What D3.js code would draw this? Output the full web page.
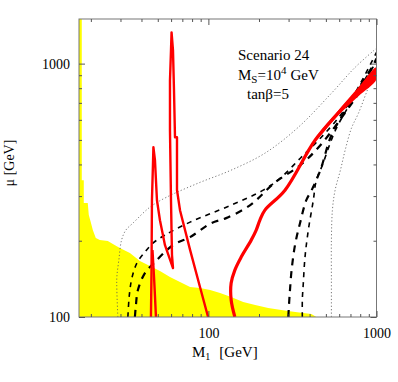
<!DOCTYPE html>
<html>
<head>
<meta charset="utf-8">
<script src="https://cdn.jsdelivr.net/npm/d3@7"></script>
<style>
  body { margin: 0; background: #fff; }
  text { font-family: "Liberation Serif", "Times New Roman", serif; fill: #000; }
</style>
</head>
<body>
<svg width="398" height="382"></svg>
<script>
// axis ticks
var xMajor = [100, 1000]
var xMinor = [20, 30, 40, 50, 60, 70, 80, 90, 200, 300, 400, 500, 600, 700, 800, 900]
var yMajor = [100, 1000]
var yMinor = [200, 300, 400, 500, 600, 700, 800, 900]

// excluded (yellow) region boundary, [M1, mu]
var excluded = [[17.66, 1500], [17.66, 346.6], [18.15, 346.6], [18.15, 281.5], [19.17, 281.5],
  [19.44, 252.4], [19.98, 236.8], [20.54, 220.3], [21.4, 204.8], [22.61, 201.1], [25.23, 199.3],
  [27.03, 194.0], [29.74, 187.1], [34.14, 178.8], [39.14, 166.2], [44.92, 158.9], [51.51, 151.8],
  [59.1, 143.8], [67.8, 137.4], [77.82, 131.3], [89.23, 130.1], [102.4, 127.8], [117.4, 124.3],
  [136.6, 119.9], [161.1, 114.6], [189.9, 111.5], [227.0, 108.5], [271.4, 106.6], [328.9, 104.6],
  [409.7, 102.8], [438.7, 100]]

// red contours
var redSpikes = [[45.54, 100], [45.9, 153], [46.17, 289], [46.8, 397], [47.1, 468], [48.11, 416],
  [49.45, 289], [51.52, 241], [55.19, 192], [61.59, 156], [60.75, 175.6], [59.93, 289], [59.1, 546],
  [59.1, 860], [59.93, 1128], [60.4, 1328], [61.59, 1128], [62.44, 785], [63.3, 512], [65.06, 512],
  [65.06, 317], [67.8, 264], [77.82, 184], [89.23, 131], [99.6, 100]]
var redSpikeBase = [[48.77, 100], [47.6, 140], [46.5, 183.7]]
var redMain = [[143.7, 100], [136.6, 116.7], [136.6, 136.1], [143.7, 153.2], [156.7, 172.4],
  [179.8, 201.1], [192.5, 220.3], [202.5, 241.2], [216.9, 264.2], [285.5, 316.7], [431, 498.6],
  [593.5, 640], [780.9, 775], [1000, 920]]
var redWedge = [[431, 502], [593.5, 654.5], [780.9, 806.5], [1000, 967], [1000, 867],
  [780.9, 743], [593.5, 625.5], [431, 494]]

// dashed contours
var dashA = [[33.2, 100], [33.67, 116.7], [34.14, 127.8], [35.08, 142.5], [37.57, 163.3],
  [41.93, 180.4], [46.8, 195.7], [55.19, 210.5], [77.82, 236.8], [136.6, 276.4], [212.0, 316.7],
  [267.7, 353.1], [352.3, 423.4], [463.6, 507.7], [610.1, 625.5], [749.8, 770.7], [1000, 1108]]
var dashB = [[36.55, 100], [37.07, 111.5], [38.09, 127.8], [41.93, 149.1], [48.11, 164.8],
  [61.59, 192.2], [77.82, 206.7], [103.8, 234.6], [127.5, 245.6], [177.4, 276.4], [249.9, 340.5],
  [352.3, 397.4], [463.6, 476.4], [653.6, 642.7], [802.6, 784.8], [1000, 1049]]
var dashC = [[298.8, 100], [302.9, 116.7], [305.8, 127.8], [312.6, 153.2], [327.5, 192.2],
  [350.8, 234.6], [382.3, 289.2], [411.4, 316.7], [463.6, 379.8], [539.2, 521.6], [653.6, 654.5],
  [802.6, 821.3], [1000, 1030]]
var dashD = [[362.1, 100], [362.1, 116.7], [367.0, 136.1], [375.6, 172.4], [393.1, 220.3],
  [421.0, 289.2], [438.7, 346.7], [476.4, 397.4], [569.6, 545.8], [699.8, 697.4], [859.9, 875],
  [1000, 1012]]

// dotted contours
var dotOuter = [[28.94, 100], [28.55, 127.8], [28.55, 143.8], [29.34, 167.7], [30.45, 201.1],
  [32.3, 220.3], [35.56, 234.6], [44.92, 271.4], [56.49, 297.2], [86.84, 337.4], [136.6, 379.8],
  [216.9, 443.1], [342.7, 560.9], [539.2, 763.7], [746.5, 967], [1000, 1150]]
var dotRight = [[539.2, 100], [539.2, 139.9], [539.2, 201.1], [546.7, 264.2], [567.2, 316.7],
  [610.1, 379.8], [650.9, 455.3], [709.4, 555.9], [780.9, 637], [896.1, 806.5], [1000, 958]]

;(function (d3) {
  var svg = d3.select('svg')
  var x0 = 79, x1 = 376.5, y0 = 19, y1 = 317

  var x = d3.scaleLog().domain([17, 1000]).range([x0, x1])
  var y = d3.scaleLog().domain([100, 1500]).range([y1, y0])

  svg.append('clipPath').attr('id', 'clip')
    .append('rect').attr('x', x0).attr('y', y0)
    .attr('width', x1 - x0).attr('height', y1 - y0)

  var plot = svg.append('g').attr('clip-path', 'url(#clip)')

  var ln = d3.line()
    .x(function (d) { return x(d[0]) })
    .y(function (d) { return y(d[1]) })
  var smooth = d3.line()
    .x(function (d) { return x(d[0]) })
    .y(function (d) { return y(d[1]) })
    .curve(d3.curveCatmullRom.alpha(0.5))

  // yellow region
  plot.append('path')
    .attr('d', ln([[17, 1500]].concat(excluded, [[17, 100]])))
    .style('fill', '#ffff00')
    .style('stroke', 'none')

  function curve (data, color, width, dash, gen) {
    plot.append('path')
      .attr('d', (gen || smooth)(data))
      .style('fill', 'none')
      .style('stroke', color)
      .style('stroke-width', width)
      .style('stroke-dasharray', dash)
      .style('stroke-linejoin', 'round')
  }

  curve(dotOuter, '#555', 0.8, '1.2,2.2')
  curve(dotRight, '#555', 0.8, '1.2,2.2')
  curve(dashA, '#000', 1.6, '5,5')
  curve(dashB, '#000', 2.2, '7,6')
  curve(dashC, '#000', 2.2, '7,6')
  curve(dashD, '#000', 1.6, '5,5')

  plot.append('path')
    .attr('d', smooth.curve(d3.curveCatmullRomClosed.alpha(0.5))(redWedge))
    .style('fill', '#ff0000')
  smooth.curve(d3.curveCatmullRom.alpha(0.5))
  curve(redMain, '#ff0000', 3.2, null)
  curve(redSpikes, '#ff0000', 2.4, null, ln)
  curve(redSpikeBase, '#ff0000', 2.4, null)

  // frame
  svg.append('rect')
    .attr('x', x0).attr('y', y0)
    .attr('width', x1 - x0).attr('height', y1 - y0)
    .style('fill', 'none').style('stroke', '#777').style('stroke-width', 1)

  function ticks (axis, tx, ty) {
    var g = svg.append('g').attr('transform', 'translate(' + tx + ',' + ty + ')').call(axis)
    g.select('.domain').remove()
    g.selectAll('line').style('stroke', '#555')
    return g
  }

  ticks(d3.axisTop(x).tickValues(xMinor).tickSize(3).tickFormat(''), 0, y1)
  ticks(d3.axisTop(x).tickValues(xMajor).tickSize(6).tickFormat(''), 0, y1)
  ticks(d3.axisBottom(x).tickValues(xMinor).tickSize(3).tickFormat(''), 0, y0)
  ticks(d3.axisBottom(x).tickValues(xMajor).tickSize(6).tickFormat(''), 0, y0)
  ticks(d3.axisRight(y).tickValues(yMinor).tickSize(3).tickFormat(''), x0, 0)
  ticks(d3.axisRight(y).tickValues(yMajor).tickSize(6).tickFormat(''), x0, 0)
  ticks(d3.axisLeft(y).tickValues(yMinor).tickSize(3).tickFormat(''), x1, 0)
  ticks(d3.axisLeft(y).tickValues(yMajor).tickSize(6).tickFormat(''), x1, 0)

  // tick labels
  var xl = ticks(d3.axisBottom(x).tickValues(xMajor).tickSize(0).tickPadding(11).tickFormat(d3.format('d')), 0, y1)
  xl.selectAll('text').style('font-size', '14px').style('font-family', '"Liberation Serif", serif')
  var yl = ticks(d3.axisLeft(y).tickValues(yMajor).tickSize(0).tickPadding(9).tickFormat(d3.format('d')), x0, 0)
  yl.selectAll('text').style('font-size', '14px').style('font-family', '"Liberation Serif", serif')

  // axis titles
  var xt = svg.append('text').attr('x', 192).attr('y', 357).style('font-size', '15px')
  xt.append('tspan').text('M')
  xt.append('tspan').attr('dy', 3).style('font-size', '10px').text('1')
  xt.append('tspan').attr('dy', -3).attr('dx', 9).text('[GeV]')

  svg.append('text')
    .attr('transform', 'translate(14,163) rotate(-90)')
    .attr('text-anchor', 'middle')
    .style('font-size', '14px')
    .text('\u03bc  [GeV]')

  // annotation
  svg.append('text').attr('x', 238).attr('y', 60).style('font-size', '15px').text('Scenario 24')
  var ms = svg.append('text').attr('x', 238).attr('y', 80).style('font-size', '15px')
  ms.append('tspan').text('M')
  ms.append('tspan').attr('dy', 3).style('font-size', '11px').text('S')
  ms.append('tspan').attr('dy', -3).text('=10')
  ms.append('tspan').attr('dy', -6).style('font-size', '11px').text('4')
  ms.append('tspan').attr('dy', 6).attr('dx', 4).text('GeV')
  svg.append('text').attr('x', 247).attr('y', 99).style('font-size', '15px').text('tan\u03b2=5')
})(window.d3)
</script>
</body>
</html>
